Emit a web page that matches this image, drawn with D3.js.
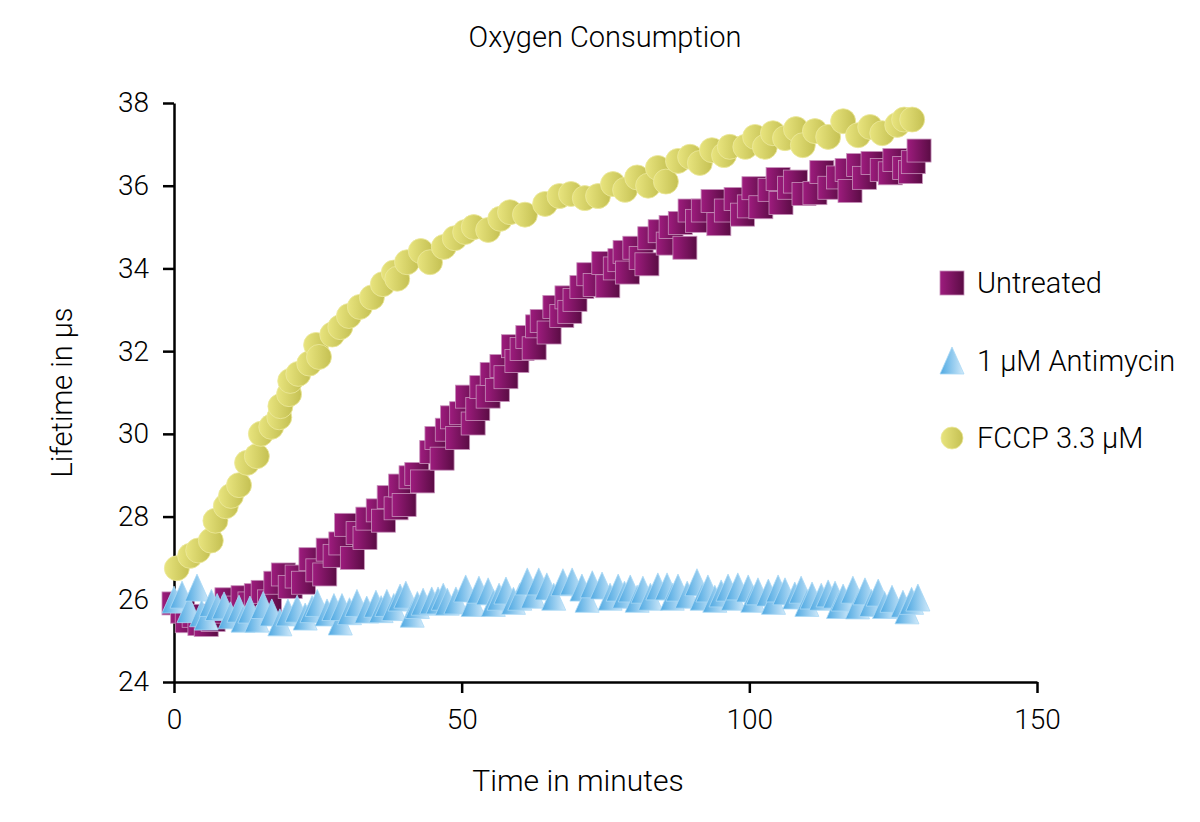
<!DOCTYPE html>
<html>
<head>
<meta charset="utf-8">
<script src="https://cdn.jsdelivr.net/npm/d3@7"></script>
<style>
  body { margin: 0; background: #fff; }
  svg { display: block; font-family: Roboto, "Liberation Sans", sans-serif; font-weight: 300; }
</style>
</head>
<body>
<div id="chartDiv"></div>
<script>
// [time in minutes, lifetime in µs]
const untreated = [
  [0, 25.9], [1.5, 25.7], [2.3, 25.47], [3.5, 25.6], [4.5, 25.4], [5.6, 25.38], [6.8, 25.5],
  [8, 25.7], [9.2, 26.0], [10.4, 25.8], [12, 26.05], [13.2, 25.9], [14.3, 26.1], [15.5, 26.18],
  [16.6, 25.95], [17.7, 26.4], [19, 26.6], [20.2, 26.3], [21.4, 26.55], [22.5, 26.4], [23.8, 26.97],
  [25, 26.7], [26.2, 26.6], [26.8, 27.2], [28, 27.05], [29, 27.35], [30, 27.8], [31, 27.0],
  [32, 27.6], [33.2, 27.48], [33.7, 27.95], [35.5, 28.15], [36.4, 27.9], [37.4, 28.47], [38.6, 28.2],
  [39.4, 28.75], [40, 28.28], [41.2, 28.95], [42.2, 29.03], [43.2, 28.85], [44.8, 29.56], [45.7, 29.9],
  [46.6, 29.4], [47.5, 30.1], [48.4, 30.4], [49.3, 29.9], [50, 30.5], [51, 30.9], [52, 30.25],
  [52.8, 30.6], [53.5, 31.13], [54.6, 30.9], [55.3, 31.45], [56.2, 31.06], [57, 31.64], [57.7, 31.37],
  [59, 32.12], [59.6, 31.76], [60.5, 32.05], [61.5, 32.34], [62.6, 32.07], [63.2, 32.6], [64, 32.73],
  [65.2, 32.45], [66.2, 33.07], [67.4, 32.85], [68.3, 33.3], [68.8, 32.95], [69.7, 33.24], [70.9, 33.55],
  [72.1, 33.86], [73.2, 33.6], [74.7, 34.13], [75.4, 33.57], [76.7, 34.0], [77.5, 34.2], [78.4, 34.4],
  [78.8, 33.9], [80.1, 34.5], [81.2, 34.25], [82.2, 34.1], [82.7, 34.73], [84.5, 34.9], [85.9, 34.6],
  [86.4, 35.0], [88, 35.1], [88.8, 34.5], [89.7, 35.4], [91, 35.15], [92, 35.4], [93.7, 35.63],
  [94.7, 35.07], [96, 35.4], [97.7, 35.68], [98.8, 35.3], [100, 35.5], [100.8, 35.94], [102, 35.48],
  [103.6, 35.9], [105, 36.16], [105.5, 35.58], [107, 35.95], [108, 36.1], [109.5, 35.8], [111.4, 35.82],
  [112.6, 36.33], [114, 35.95], [115.5, 36.2], [117, 36.38], [117.5, 35.87], [119, 36.5], [120, 36.19],
  [121.5, 36.55], [123.1, 36.38], [124.5, 36.3], [125.3, 36.62], [127, 36.43], [128, 36.33],
  [128.5, 36.57], [129.5, 36.85]
];

const antimycin = [
  [0, 25.98], [1.4, 26.1], [2.6, 25.75], [4, 26.27], [4.8, 25.65], [5.6, 25.57], [6.5, 25.9],
  [7.5, 25.8], [8.7, 25.84], [9.8, 25.6], [11.3, 25.76], [12, 25.52], [13.2, 25.74], [14.4, 25.52],
  [15.5, 25.85], [17, 25.67], [18.4, 25.43], [19.8, 25.67], [21.4, 25.76], [22.8, 25.57], [24, 25.75],
  [24.9, 25.9], [26.6, 25.67], [27.8, 25.8], [28.9, 25.45], [29.2, 25.8], [30.5, 25.7], [31.8, 25.9],
  [33.5, 25.74], [35.1, 25.88], [36, 25.75], [37, 25.9], [38.2, 25.8], [39.3, 26.03], [40.3, 26.1],
  [41.4, 25.64], [42.3, 25.85], [43.3, 25.93], [44.8, 25.96], [45.9, 25.96], [46.8, 26.05], [47.5, 25.93],
  [49, 25.96], [50.7, 26.25], [52, 25.9], [53, 26.22], [54.6, 26.18], [55.5, 25.9], [56.5, 26.05],
  [57.7, 26.2], [59, 25.95], [60.1, 26.05], [61.4, 26.42], [62.4, 26.1], [63.4, 26.42], [64.8, 26.3],
  [66, 26.05], [67.6, 26.4], [69.2, 26.42], [70.9, 26.27], [71.8, 26.0], [72.7, 26.35], [74.4, 26.32],
  [75.8, 26.05], [77.2, 26.27], [78.3, 26.1], [79.3, 26.25], [80.5, 26.0], [81.5, 26.22], [82.8, 26.05],
  [84.1, 26.3], [85.7, 26.3], [86.6, 26.05], [87.6, 26.27], [89.2, 26.1], [90.9, 26.4], [91.8, 26.05],
  [92.8, 26.25], [94, 26.0], [95.1, 26.13], [96.3, 26.27], [97.2, 26.05], [98, 26.3], [99.8, 26.25],
  [100.6, 26.0], [101.5, 26.18], [103.3, 26.15], [104.2, 25.95], [105, 26.25], [106.2, 26.18],
  [107.9, 26.08], [109, 26.22], [110, 25.9], [110.9, 26.08], [112.5, 26.05], [113.7, 26.13],
  [114.9, 26.1], [115.5, 25.85], [116.3, 26.03], [118, 26.22], [118.8, 25.84], [120.1, 26.18],
  [121.2, 25.9], [122.4, 26.15], [123.5, 25.85], [124.8, 26.0], [126.7, 25.88], [127.4, 25.72],
  [128.2, 25.95], [129.3, 26.03]
];

const fccp = [
  [0.5, 26.75], [2.8, 27.05], [4.2, 27.18], [6.4, 27.42], [7.2, 27.9], [9, 28.25], [9.9, 28.5],
  [11.3, 28.76], [12.7, 29.3], [14.4, 29.46], [15.1, 30.0], [16.9, 30.17], [18.3, 30.4], [18.5, 30.67],
  [20, 30.96], [20.2, 31.28], [21.6, 31.45], [23.5, 31.7], [24.7, 32.15], [25.2, 31.86], [27.5, 32.4],
  [28.9, 32.58], [30.4, 32.85], [32.3, 33.07], [34.4, 33.3], [36.3, 33.62], [38.2, 33.9], [38.8, 33.75],
  [40.5, 34.15], [42.9, 34.42], [44.5, 34.15], [46.9, 34.52], [48.8, 34.73], [50.6, 34.88], [52.1, 35.0],
  [54.6, 34.93], [56.7, 35.2], [58.4, 35.36], [61, 35.3], [64.5, 35.56], [67, 35.75], [69, 35.8],
  [71.4, 35.7], [73.7, 35.75], [76.3, 36.04], [78.4, 35.9], [80.5, 36.2], [82.4, 36.0], [84.1, 36.43],
  [85.5, 36.1], [87.6, 36.6], [89.7, 36.7], [91.4, 36.55], [93.5, 36.86], [95.6, 36.74], [96.6, 36.94],
  [99.3, 36.94], [101, 37.18], [102.7, 36.94], [104.1, 37.27], [106.2, 37.15], [108.1, 37.37],
  [109.3, 36.98], [111.4, 37.32], [113.7, 37.18], [116.3, 37.56], [118.9, 37.22], [121, 37.42],
  [123.1, 37.27], [125.7, 37.47], [126.9, 37.6], [128.3, 37.6]
];

const seriesNames = ["Untreated", "1 µM Antimycin", "FCCP 3.3 µM"];
const xTicks = [0, 50, 100, 150];
const yTicks = [24, 26, 28, 30, 32, 34, 36, 38];

const width = 1200, height = 822;
const margin = {top: 103, right: 163, bottom: 140, left: 174};

const x = d3.scaleLinear().domain([0, 150]).range([margin.left, width - margin.right]);
const y = d3.scaleLinear().domain([24, 38]).range([height - margin.bottom, margin.top]);

const svg = d3.create("svg")
    .attr("width", width)
    .attr("height", height)
    .attr("viewBox", [0, 0, width, height]);

// gradients for the marker fills
const defs = svg.append("defs");
function grad(id, c0, c1) {
  const g = defs.append("linearGradient").attr("id", id);
  g.append("stop").attr("offset", "0%").attr("stop-color", c0);
  g.append("stop").attr("offset", "100%").attr("stop-color", c1);
}
grad("gSq", "#9e1c7e", "#5a0c44");
grad("gTri", "#4da8e2", "#d2eafa");
grad("gDot", "#e8e47e", "#c4c052");

// title + axis titles
svg.append("text")
    .attr("x", 605).attr("y", 47)
    .attr("text-anchor", "middle")
    .attr("font-size", 29)
    .text("Oxygen Consumption");

svg.append("text")
    .attr("transform", `translate(72,${(y(24) + y(38)) / 2}) rotate(-90)`)
    .attr("text-anchor", "middle")
    .attr("font-size", 29)
    .text("Lifetime in µs");

svg.append("text")
    .attr("x", 578).attr("y", 791)
    .attr("text-anchor", "middle")
    .attr("font-size", 30)
    .text("Time in minutes");

// axes
const xAxis = svg.append("g")
    .attr("transform", `translate(0,${y(24)})`)
    .call(d3.axisBottom(x).tickValues(xTicks).tickSize(11).tickSizeOuter(0).tickPadding(16));

const yAxis = svg.append("g")
    .attr("transform", `translate(${x(0)},0)`)
    .call(d3.axisLeft(y).tickValues(yTicks).tickSize(11).tickSizeOuter(0).tickPadding(14));

[xAxis, yAxis].forEach(g => {
  g.selectAll("path, line").attr("stroke", "#000").attr("stroke-width", 2.5);
  g.selectAll("text").attr("font-size", 28).attr("fill", "#000")
      .attr("font-family", "Roboto, 'Liberation Sans', sans-serif")
      .attr("font-weight", 300);
});

// markers
const triPath = "M0,-14L12,13L-12,13Z";

svg.append("g")
  .selectAll("rect")
  .data(untreated)
  .join("rect")
    .attr("x", d => x(d[0]) - 12)
    .attr("y", d => y(d[1]) - 11.5)
    .attr("width", 24)
    .attr("height", 23)
    .attr("fill", "url(#gSq)")
    .attr("stroke", "#c792bb")
    .attr("stroke-width", 0.8);

svg.append("g")
  .selectAll("path")
  .data(antimycin)
  .join("path")
    .attr("transform", d => `translate(${x(d[0])},${y(d[1])})`)
    .attr("d", triPath)
    .attr("fill", "url(#gTri)")
    .attr("stroke", "#a9d8f5")
    .attr("stroke-width", 0.8);

svg.append("g")
  .selectAll("circle")
  .data(fccp)
  .join("circle")
    .attr("cx", d => x(d[0]))
    .attr("cy", d => y(d[1]))
    .attr("r", 12.5)
    .attr("fill", "url(#gDot)")
    .attr("stroke", "#ece99c")
    .attr("stroke-width", 0.8);

// legend
const legend = svg.append("g").attr("font-size", 29);
const legendY = [283, 361, 438];

legend.append("rect")
    .attr("x", 940).attr("y", legendY[0] - 12)
    .attr("width", 24).attr("height", 24)
    .attr("fill", "url(#gSq)").attr("stroke", "#c792bb").attr("stroke-width", 0.8);
legend.append("path")
    .attr("transform", `translate(952,${legendY[1]})`)
    .attr("d", triPath)
    .attr("fill", "url(#gTri)").attr("stroke", "#a9d8f5").attr("stroke-width", 0.8);
legend.append("circle")
    .attr("cx", 952).attr("cy", legendY[2]).attr("r", 11)
    .attr("fill", "url(#gDot)").attr("stroke", "#ece99c").attr("stroke-width", 0.8);

legend.selectAll("text")
  .data(seriesNames)
  .join("text")
    .attr("x", 977)
    .attr("y", (d, i) => legendY[i])
    .attr("dy", "0.36em")
    .text(d => d);

document.getElementById("chartDiv").appendChild(svg.node());
</script>
</body>
</html>
